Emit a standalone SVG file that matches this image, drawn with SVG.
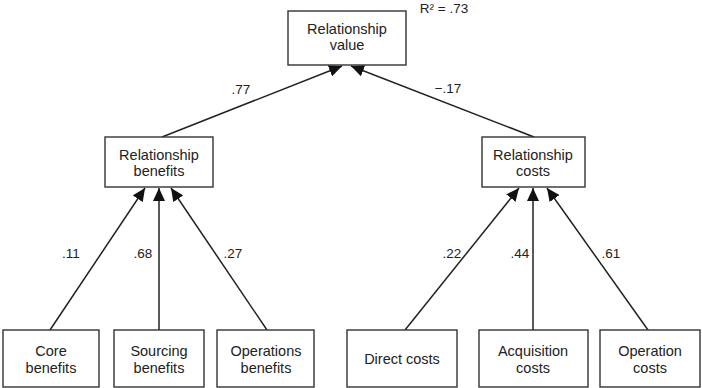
<svg xmlns="http://www.w3.org/2000/svg" width="702" height="388" viewBox="0 0 702 388">
  <style>
    .box { fill: #fff; stroke: #333; stroke-width: 1.4; }
    .lbl { font-family: "Liberation Sans", Arial, sans-serif; font-size: 14.5px; fill: #222; text-anchor: middle; }
    .coef { font-family: "Liberation Sans", Arial, sans-serif; font-size: 13.5px; fill: #222; text-anchor: middle; }
    .edge { stroke: #222; stroke-width: 1.5; fill: none; marker-end: url(#arrow); }
  </style>
  <defs>
    <marker id="arrow" markerUnits="userSpaceOnUse" markerWidth="13" markerHeight="12" viewBox="0 0 13 12" refX="13" refY="6" orient="auto">
      <path d="M0,0 L13,6 L0,12 z" fill="#111"/>
    </marker>
  </defs>

  <rect width="702" height="388" fill="#fff"/>

  <!-- connectors -->
  <g id="connectors">
    <line class="edge" x1="162" y1="137" x2="342" y2="66"/>
    <line class="edge" x1="534" y1="137" x2="351" y2="66"/>
    <line class="edge" x1="50" y1="330" x2="145" y2="188"/>
    <line class="edge" x1="159" y1="330" x2="159" y2="188"/>
    <line class="edge" x1="267" y1="330" x2="171" y2="188"/>
    <line class="edge" x1="405" y1="330" x2="519" y2="188"/>
    <line class="edge" x1="533" y1="330" x2="533" y2="188"/>
    <line class="edge" x1="648" y1="330" x2="547" y2="188"/>
  </g>

  <!-- path coefficients -->
  <g id="coefficients">
    <text class="coef" x="241" y="94">.77</text>
    <text class="coef" x="448" y="93">−.17</text>
    <text class="coef" x="71" y="258">.11</text>
    <text class="coef" x="143" y="258">.68</text>
    <text class="coef" x="233" y="258">.27</text>
    <text class="coef" x="452" y="258">.22</text>
    <text class="coef" x="520" y="258">.44</text>
    <text class="coef" x="611" y="258">.61</text>
    <text class="coef" x="444" y="13">R² = .73</text>
  </g>

  <g id="relationship-value">
    <rect class="box" x="288" y="11" width="118" height="54"/>
    <text class="lbl" x="347" y="34">Relationship</text>
    <text class="lbl" x="347" y="50">value</text>
  </g>

  <g id="relationship-benefits">
    <rect class="box" x="105" y="137" width="108" height="50"/>
    <text class="lbl" x="159" y="160">Relationship</text>
    <text class="lbl" x="159" y="176">benefits</text>
  </g>

  <g id="relationship-costs">
    <rect class="box" x="482" y="137" width="103" height="50"/>
    <text class="lbl" x="533" y="160">Relationship</text>
    <text class="lbl" x="533" y="176">costs</text>
  </g>

  <g id="core-benefits">
    <rect class="box" x="3" y="330" width="96" height="57"/>
    <text class="lbl" x="51" y="356">Core</text>
    <text class="lbl" x="51" y="373">benefits</text>
  </g>

  <g id="sourcing-benefits">
    <rect class="box" x="114" y="330" width="90" height="57"/>
    <text class="lbl" x="159" y="356">Sourcing</text>
    <text class="lbl" x="159" y="373">benefits</text>
  </g>

  <g id="operations-benefits">
    <rect class="box" x="217" y="330" width="97" height="57"/>
    <text class="lbl" x="266" y="356">Operations</text>
    <text class="lbl" x="266" y="373">benefits</text>
  </g>

  <g id="direct-costs">
    <rect class="box" x="347" y="330" width="110" height="57"/>
    <text class="lbl" x="402" y="364">Direct costs</text>
  </g>

  <g id="acquisition-costs">
    <rect class="box" x="479" y="330" width="109" height="57"/>
    <text class="lbl" x="533" y="356">Acquisition</text>
    <text class="lbl" x="533" y="373">costs</text>
  </g>

  <g id="operation-costs">
    <rect class="box" x="600" y="330" width="100" height="57"/>
    <text class="lbl" x="650" y="356">Operation</text>
    <text class="lbl" x="650" y="373">costs</text>
  </g>
</svg>
